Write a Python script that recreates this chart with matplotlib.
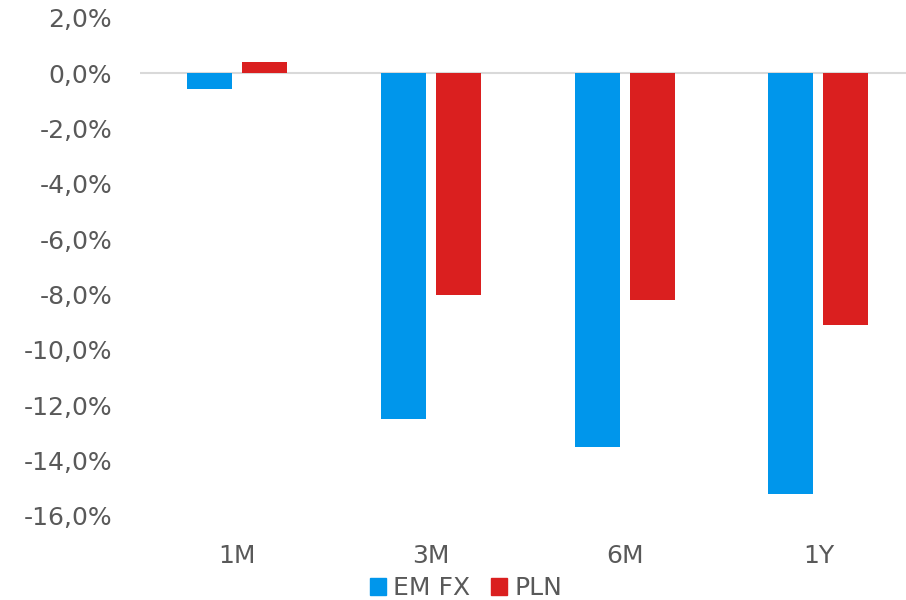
import matplotlib
matplotlib.use("Agg")
import matplotlib.pyplot as plt
import matplotlib.patches as mpatches
import numpy as np

categories = ['1M', '3M', '6M', '1Y']
em_fx = [-0.57, -12.5, -13.5, -15.2]
pln = [0.41, -8.0, -8.2, -9.1]
yticks = [2, 0, -2, -4, -6, -8, -10, -12, -14, -16]
series_names = ['EM FX', 'PLN']

BLUE = '#0096EB'
RED = '#DA1F1F'
TXT = '#595959'

plt.rcParams['font.family'] = ['DejaVu Sans']

fig = plt.figure(figsize=(9.06, 6.0), dpi=100)
ax = fig.add_axes([140 / 906, 84 / 600, 775.3 / 906, 498 / 600])

x = np.arange(len(categories))
w = 0.232
off = 0.142
ax.bar(x - off, em_fx, w, color=BLUE, zorder=2)
ax.bar(x + off, pln, w, color=RED, zorder=2)
ax.axhline(0, color='#D9D9D9', lw=1.5, zorder=1)

ax.set_xlim(-0.5, 3.5)
ax.set_ylim(-16, 2)
ax.set_yticks(yticks)
ax.set_yticklabels([f"{v:.1f}%".replace('.', ',') for v in yticks])
ax.set_xticks(x)
ax.set_xticklabels(categories)
ax.tick_params(axis='y', length=0, pad=20, labelsize=18, labelcolor=TXT)
ax.tick_params(axis='x', length=0, pad=20, labelsize=18, labelcolor=TXT)
for s in ax.spines.values():
    s.set_visible(False)

handles = [mpatches.Patch(color=BLUE, label=series_names[0]),
           mpatches.Patch(color=RED, label=series_names[1])]
leg = fig.legend(handles=handles, loc='center', bbox_to_anchor=(466 / 906, 1 - 588 / 600),
                 ncol=2, frameon=False, fontsize=18, handlelength=0.65, handleheight=0.65,
                 handletextpad=0.3, columnspacing=0.8, borderaxespad=0, borderpad=0)
for t in leg.get_texts():
    t.set_color(TXT)

fig.savefig('out.png', dpi=100)
